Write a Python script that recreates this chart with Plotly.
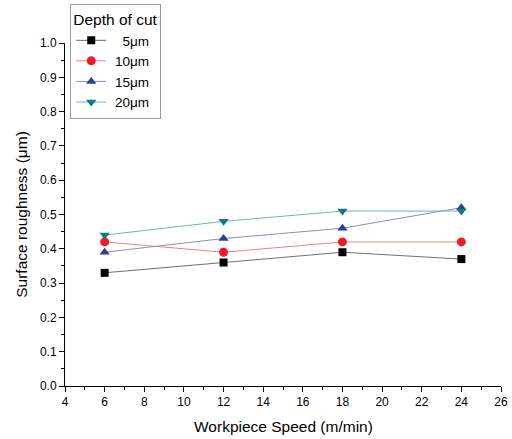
import plotly.graph_objects as go

speed = [6, 12, 18, 24]
r5 = [0.33, 0.36, 0.39, 0.37]
r10 = [0.42, 0.39, 0.42, 0.42]
r15 = [0.39, 0.43, 0.46, 0.52]
r20 = [0.44, 0.48, 0.51, 0.51]
names = ["5\u03bcm", "10\u03bcm", "15\u03bcm", "20\u03bcm"]

series = [
    (r5, "   " + names[0], "square", "#000000", "#6e6e6e", 8),
    (r10, " " + names[1], "circle", "#ee1c24", "#f08080", 9),
    (r15, " " + names[2], "triangle-up", "#2b3f99", "#7f8fc8", 9),
    (r20, " " + names[3], "triangle-down", "#117a7a", "#70b4b4", 9),
]

FONT = "Liberation Sans, Arial"

fig = go.Figure()
for ys, nm, sym, mc, lc, sz in series:
    fig.add_trace(go.Scatter(
        x=speed, y=ys, name=nm, mode="lines+markers",
        line=dict(color=lc, width=1),
        marker=dict(symbol=sym, color=mc, size=sz),
    ))

axis_common = dict(
    showgrid=False, zeroline=False, showline=True, linecolor="black", linewidth=1,
    ticks="outside", ticklen=5, tickcolor="black", tickwidth=1, automargin=False,
    tickfont=dict(family=FONT, size=12, color="black"),
)
fig.update_xaxes(range=[4, 26], dtick=2, tick0=4,
                 minor=dict(dtick=1, ticks="outside", ticklen=3, tickcolor="black"),
                 **axis_common)
fig.update_yaxes(range=[0, 1.0], dtick=0.1, tick0=0, tickformat=".1f",
                 minor=dict(dtick=0.05, ticks="outside", ticklen=3, tickcolor="black"),
                 title=dict(text="Surface roughness (\u03bcm)", font=dict(family=FONT, size=15.5, color="black"), standoff=8),
                 **axis_common)

fig.add_annotation(
    text="Workpiece Speed (m/min)", xref="paper", yref="paper", x=0.5, y=0,
    xanchor="center", yanchor="middle", yshift=-40, showarrow=False,
    font=dict(family=FONT, size=15.5, color="black"),
)

fig.update_layout(
    width=512, height=439,
    margin=dict(l=65, r=11, t=43, b=53, autoexpand=False),
    plot_bgcolor="white", paper_bgcolor="white",
    font=dict(family=FONT, size=14, color="black"),
    legend=dict(
        title=dict(text="Depth of cut", font=dict(size=15.5)),
        x=0.012, y=1.114, xanchor="left", yanchor="top",
        bordercolor="#999999", borderwidth=1, bgcolor="white",
        font=dict(size=13.5), tracegroupgap=0, itemwidth=30,
    ),
)

fig.write_html("out.html")
